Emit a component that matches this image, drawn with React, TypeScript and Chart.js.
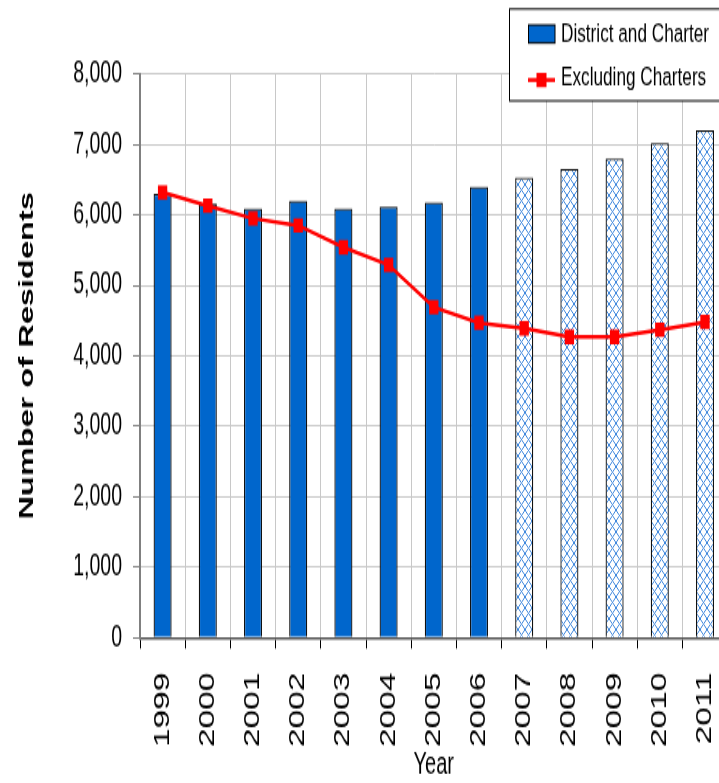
import React, { useEffect, useRef } from 'react';
import { Chart, registerables } from 'chart.js';

Chart.register(...registerables);

// ---- data ----
const years = ['1999', '2000', '2001', '2002', '2003', '2004', '2005', '2006', '2007', '2008', '2009', '2010', '2011'];
const districtAndCharter = [6300, 6160, 6090, 6200, 6090, 6120, 6180, 6400, 6530, 6650, 6800, 7020, 7200];
const excludingCharters = [6320, 6130, 5950, 5850, 5540, 5290, 4690, 4470, 4390, 4270, 4270, 4370, 4480];
const projectedYears = ['2007', '2008', '2009', '2010', '2011'];
const seriesNames = ['District and Charter', 'Excluding Charters'];
const yAxisTitle = 'Number of Residents';
const xAxisTitle = 'Year';
const yMin = 0;
const yMax = 8000;
const yStep = 1000;

// ---- styles ----
const FONT = "'Liberation Sans', Arial, sans-serif";
const SOLID = '#0066cc';
const RED = '#ff0000';
const CANVAS_W = 740;
const CANVAS_H = 505;
const VIEW_H = 783;

function makeHatch(): CanvasPattern | string {
  const c = document.createElement('canvas');
  c.width = 7;
  c.height = 7;
  const g = c.getContext('2d');
  if (!g) return '#cfe0f5';
  g.fillStyle = '#ffffff';
  g.fillRect(0, 0, 7, 7);
  g.strokeStyle = '#3f88dd';
  g.lineWidth = 1;
  g.beginPath();
  g.moveTo(0, 0);
  g.lineTo(7, 7);
  g.moveTo(7, 0);
  g.lineTo(0, 7);
  g.stroke();
  const p = g.createPattern(c, 'repeat');
  return p || '#cfe0f5';
}

const boxLegend = {
  id: 'boxLegend',
  afterDraw(chart: any) {
    const ctx = chart.ctx as CanvasRenderingContext2D;
    const ds = chart.data.datasets;
    const barDs = ds.find((d: any) => d.type === 'bar');
    const lineDs = ds.find((d: any) => d.type === 'line');
    ctx.save();
    const bx = 509.5, by = 5.8, bw = 300, bh = 59.2;
    ctx.fillStyle = '#ffffff';
    ctx.fillRect(bx, by, bw, bh);
    ctx.strokeStyle = '#000000';
    ctx.lineWidth = 1;
    ctx.strokeRect(bx, by, bw, bh);

    // row 1: bar swatch
    ctx.fillStyle = SOLID;
    ctx.fillRect(528, 16.1, 27, 11.6);
    ctx.strokeStyle = '#000000';
    ctx.lineWidth = 1;
    ctx.strokeRect(528.5, 16.1, 26.5, 11.6);
    ctx.font = `17.2px ${FONT}`;
    ctx.fillStyle = '#000000';
    ctx.textAlign = 'left';
    ctx.textBaseline = 'middle';
    ctx.fillText(barDs.label, 561, 21.8);

    // row 2: line + marker
    ctx.strokeStyle = RED;
    ctx.lineWidth = 2.5;
    ctx.beginPath();
    ctx.moveTo(528, 51.6);
    ctx.lineTo(555, 51.6);
    ctx.stroke();
    ctx.fillStyle = RED;
    ctx.fillRect(541.5 - 5, 51.6 - 4.6, 10, 9.2);
    ctx.fillStyle = '#000000';
    ctx.fillText(lineDs.label, 561, 50.5);
    ctx.restore();
  },
};

export default function App() {
  const ref = useRef<HTMLCanvasElement | null>(null);

  useEffect(() => {
    const canvas = ref.current;
    if (!canvas) return;
    const hatch = makeHatch();
    const barColors = years.map((y) => (projectedYears.includes(y) ? hatch : SOLID));

    const chart = new Chart(canvas, {
      type: 'bar',
      data: {
        labels: years,
        datasets: [
          {
            type: 'line',
            label: seriesNames[1],
            data: excludingCharters,
            borderColor: RED,
            backgroundColor: RED,
            borderWidth: 2.5,
            pointStyle: 'rect',
            pointRadius: 6.6,
            pointBackgroundColor: RED,
            pointBorderColor: RED,
            pointBorderWidth: 0,
            tension: 0,
            order: 0,
          } as any,
          {
            type: 'bar',
            label: seriesNames[0],
            data: districtAndCharter,
            backgroundColor: barColors as any,
            borderColor: '#111111',
            borderWidth: 1.3,
            barPercentage: 0.4,
            categoryPercentage: 1,
            order: 1,
          } as any,
        ],
      },
      options: {
        responsive: false,
        animation: false,
        devicePixelRatio: 1,
        layout: { padding: { top: 47.7, right: 12.4, bottom: 0, left: 0 } },
        plugins: {
          legend: { display: false },
          tooltip: { enabled: false },
        },
        scales: {
          x: {
            type: 'category',
            offset: true,
            grid: {
              display: true,
              offset: true,
              color: '#c8c8c8',
              lineWidth: 1,
              drawTicks: true,
              tickLength: 7,
              tickColor: '#000000',
              tickWidth: 1,
            },
            border: { display: true, color: '#555555', width: 1.5 },
            ticks: {
              autoSkip: false,
              minRotation: 90,
              maxRotation: 90,
              padding: 15.5,
              color: '#000000',
              font: { family: FONT, size: 21.5 },
            },
            title: {
              display: true,
              text: xAxisTitle,
              color: '#000000',
              font: { family: FONT, size: 20 },
              padding: { top: 0, bottom: 0 },
            },
            afterFit: (scale: any) => {
              scale.height = CANVAS_H - 411.3;
              scale.paddingLeft = 0;
              scale.paddingRight = 0;
            },
          },
          y: {
            type: 'linear',
            min: yMin,
            max: yMax,
            ticks: {
              stepSize: yStep,
              padding: 11,
              color: '#000000',
              font: { family: FONT, size: 19.5 },
              callback: (v: any) => Number(v).toLocaleString('en-US'),
            },
            grid: {
              color: '#c8c8c8',
              lineWidth: 1,
              drawTicks: true,
              tickLength: 7,
              tickColor: '#808080',
            },
            border: { display: true, color: '#808080', width: 2 },
            title: {
              display: true,
              text: yAxisTitle,
              color: '#000000',
              font: { family: FONT, size: 21, weight: 'bold' },
              padding: { top: 14.4, bottom: 0 },
            },
            afterFit: (scale: any) => {
              scale.width = 140;
            },
          },
        },
      },
      plugins: [boxLegend],
    });

    return () => {
      chart.destroy();
    };
  }, []);

  return (
    <div
      style={{
        position: 'fixed',
        left: 0,
        top: 0,
        width: '719px',
        height: `${VIEW_H}px`,
        overflow: 'hidden',
        background: '#ffffff',
      }}
    >
      <canvas
        ref={ref}
        width={CANVAS_W}
        height={CANVAS_H}
        style={{ display: 'block', width: `${CANVAS_W}px`, height: `${VIEW_H}px` }}
      />
    </div>
  );
}
